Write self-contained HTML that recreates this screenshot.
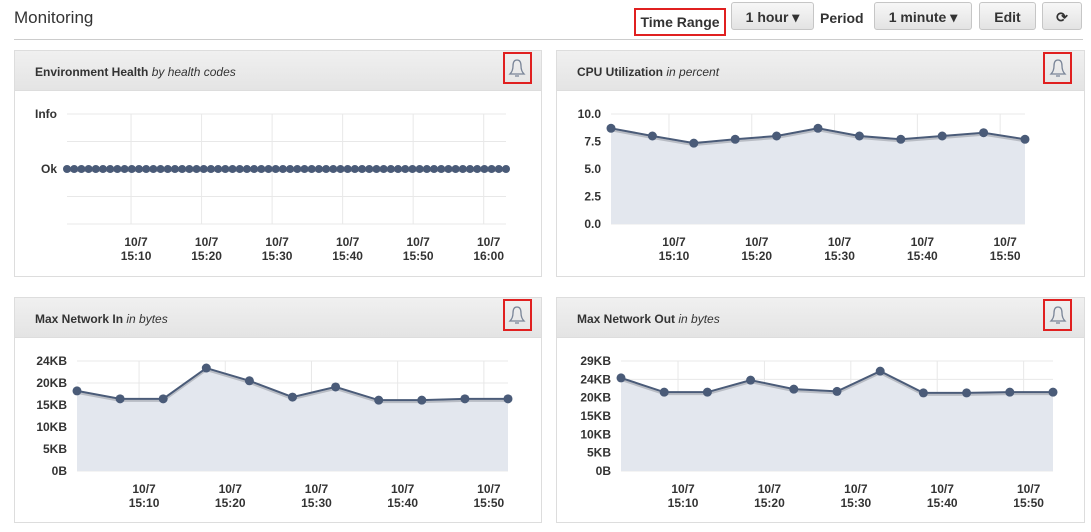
<!DOCTYPE html>
<html><head><meta charset="utf-8">
<style>
body{margin:0;width:1091px;height:532px;background:#fff;font-family:"Liberation Sans",sans-serif;position:relative;overflow:hidden}
.abs{position:absolute}
.btn{position:absolute;top:2px;height:28px;border:1px solid #c6c6c6;border-radius:3px;background:linear-gradient(#f7f7f7,#e3e3e3);font-weight:bold;font-size:14px;color:#333;text-align:center;line-height:28px;box-sizing:border-box}
.panel{position:absolute;border:1px solid #ddd;box-sizing:border-box;background:#fff}
.ph{position:absolute;left:0;top:0;right:0;height:39px;background:linear-gradient(#f0f0f0,#e4e4e4);border-bottom:1px solid #ddd}
.pt{position:absolute;left:20px;top:14px;font-size:12px;color:#333;font-weight:bold}
.pt i{font-weight:normal}
.bell{position:absolute;top:1px;width:25px;height:28px;border:2px solid #e02020}
</style></head><body>
<div class="abs" style="left:14px;top:8px;font-size:17px;color:#333">Monitoring</div>
<div class="abs" style="left:14px;top:39px;width:1069px;height:1px;background:#ccc"></div>
<div class="abs" style="left:634px;top:8px;width:88px;height:24px;border:2px solid #e02020;font-weight:bold;font-size:14px;color:#333;text-align:center;line-height:24px">Time Range</div>
<div class="btn" style="left:731px;width:83px">1 hour ▾</div>
<div class="abs" style="left:820px;top:10px;font-weight:bold;font-size:14px;color:#333">Period</div>
<div class="btn" style="left:874px;width:98px">1 minute ▾</div>
<div class="btn" style="left:979px;width:57px">Edit</div>
<div class="btn" style="left:1042px;width:40px">⟳</div>

<div class="panel" style="left:14px;top:50px;width:528px;height:227px"><div class="ph"><div class="pt">Environment Health <i>by health codes</i></div><div class="bell" style="left:488px"></div></div></div>
<div class="panel" style="left:556px;top:50px;width:529px;height:227px"><div class="ph"><div class="pt">CPU Utilization <i>in percent</i></div><div class="bell" style="left:486px"></div></div></div>
<div class="panel" style="left:14px;top:297px;width:528px;height:226px"><div class="ph"><div class="pt">Max Network In <i>in bytes</i></div><div class="bell" style="left:488px"></div></div></div>
<div class="panel" style="left:556px;top:297px;width:529px;height:226px"><div class="ph"><div class="pt">Max Network Out <i>in bytes</i></div><div class="bell" style="left:486px"></div></div></div>

<svg id="s" class="abs" style="left:0;top:0" width="1091" height="532"></svg>
<script>
const healthValues = Array(62).fill(1);
const healthTicks = [0,1,2];
const healthTickLabels = ['', 'Ok', 'Info'];
const healthXTicks = [8.9,18.7,28.5,38.3,48.1,57.9];
const cpuValues = [8.7,8.0,7.35,7.7,8.0,8.7,8.0,7.7,8.0,8.3,7.7];
const cpuTicks = [0,2.5,5,7.5,10];
const cpuTickLabels = ['0.0','2.5','5.0','7.5','10.0'];
const netInValues = [18.2,16.4,16.4,23.4,20.5,16.8,19.1,16.1,16.1,16.4,16.4];
const netInTicks = [0,5,10,15,20,25];
const netInTickLabels = ['0B','5KB','10KB','15KB','20KB','24KB'];
const netOutValues = [24.8,21.0,21.0,24.2,21.8,21.2,26.6,20.8,20.8,21.0,21.0];
const netOutTicks = [0,4.88,9.77,14.65,19.53,24.42,29.3];
const netOutTickLabels = ['0B','5KB','10KB','15KB','20KB','24KB','29KB'];
const xTickLabels = ['15:10','15:20','15:30','15:40','15:50','16:00'];
const fiveMinXTicks = [7,17,27,37,47];
const netInXTicks = [7.2,17.2,27.2,37.2,47.2];
const netOutXTicks = [6.6,16.6,26.6,36.6,46.6];

const svg=document.getElementById('s'), NS='http://www.w3.org/2000/svg';
function el(t,a,p){const e=document.createElementNS(NS,t);for(const k in a)e.setAttribute(k,a[k]);(p||svg).appendChild(e);return e;}
function chart(name,o){
  const g=el('g',{});
  
  
  const n=o.vals.length, dom=o.domain;
  const X=m=>o.x0+(m/dom)*(o.x1-o.x0);
  const pm=i=>i*dom/(n-1);
  const Y=v=>o.y1-(v-o.ymin)/(o.ymax-o.ymin)*(o.y1-o.y0);
  const grid=o.grid||o.ticks;
  grid.forEach(v=>el('line',{x1:o.x0,x2:o.x1,y1:Y(v),y2:Y(v),stroke:'#e8e8e8'},g));
  o.ticks.forEach((v,i)=>{const t=el('text',{x:o.x0-10,y:Y(v)+4,'text-anchor':'end','font-size':12,'font-weight':'bold',fill:'#333'},g);t.textContent=o.labels[i];
    
    });
  o.xt.forEach((m,i)=>{el('line',{x1:X(m),x2:X(m),y1:o.y0,y2:o.y1,stroke:'#e8e8e8'},g);
    const t=el('text',{x:X(m)+5,y:o.y1+22,'text-anchor':'middle','font-size':12,'font-weight':'bold',fill:'#333'},g);
    
    
    el('tspan',{x:X(m)+5},t).textContent='10/7';el('tspan',{x:X(m)+5,dy:14},t).textContent=xTickLabels[i];});
  const pts=o.vals.map((v,i)=>[X(pm(i)),Y(v)]);
  const line=pts.map(p=>p.join(',')).join(' ');
  if(o.fill){const a=el('polygon',{points:line+` ${o.x1},${o.y1} ${o.x0},${o.y1}`,fill:'#e3e7ee'},g);
    
    }
  el('polyline',{points:pts.map(p=>p[0]+','+(p[1]+2)).join(' '),fill:'none',stroke:'#b8bcc4','stroke-width':2},g);
  const l=el('polyline',{points:line,fill:'none',stroke:'#4a5b78','stroke-width':2},g);
  
  
  pts.forEach(p=>{const c=el('circle',{cx:p[0],cy:p[1],r:o.r||4.5,fill:'#4a5b78'},g);
    
    });
}
chart('health-chart',{vals:healthValues,domain:61,x0:67,x1:506,y0:114,y1:224,ymin:0,ymax:2,ticks:healthTicks,labels:healthTickLabels,grid:[0,0.5,1,1.5,2],xt:healthXTicks,r:4});
chart('cpu-chart',{vals:cpuValues,domain:50,x0:611,x1:1025,y0:114,y1:224,ymin:0,ymax:10,ticks:cpuTicks,labels:cpuTickLabels,xt:fiveMinXTicks,fill:1});
chart('network-in-chart',{vals:netInValues,domain:50,x0:77,x1:508,y0:361,y1:471,ymin:0,ymax:25,ticks:netInTicks,labels:netInTickLabels,xt:netInXTicks,fill:1});
chart('network-out-chart',{vals:netOutValues,domain:50,x0:621,x1:1053,y0:361,y1:471,ymin:0,ymax:29.3,ticks:netOutTicks,labels:netOutTickLabels,xt:netOutXTicks,fill:1});
// bells
[[517,68],[1058,68],[517,315],[1058,315]].forEach(b=>{
  const p=el('path',{d:`M${b[0]-7},${b[1]+6} L${b[0]+7},${b[1]+6} Q${b[0]+4},${b[1]+3} ${b[0]+4},${b[1]-2} Q${b[0]+4},${b[1]-8} ${b[0]},${b[1]-8} Q${b[0]-4},${b[1]-8} ${b[0]-4},${b[1]-2} Q${b[0]-4},${b[1]+3} ${b[0]-7},${b[1]+6} Z M${b[0]-2},${b[1]+8} L${b[0]+2},${b[1]+8}`,fill:'none',stroke:'#7a8598','stroke-width':1.3});
  
  
});
</script>
</body></html>
